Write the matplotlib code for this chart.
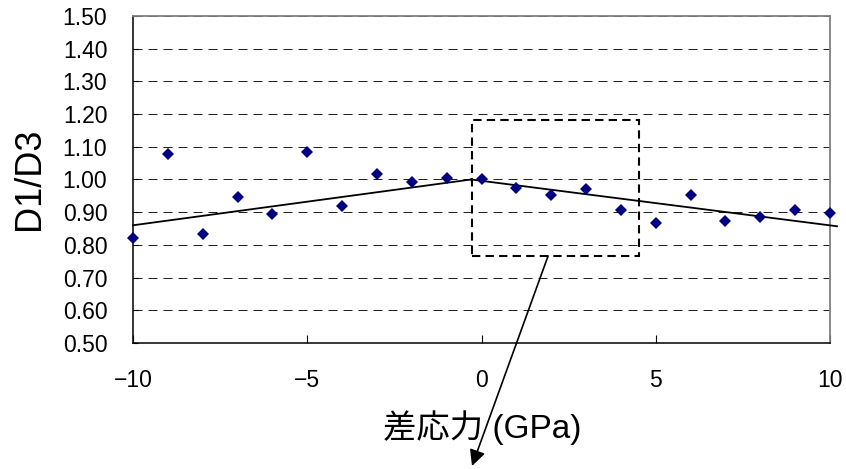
import matplotlib
matplotlib.use("Agg")
import matplotlib.pyplot as plt
from matplotlib.patches import Rectangle

# Differential stress (GPa) and measured D1/D3 ratio
stress = [-10, -9, -8, -7, -6, -5, -4, -3, -2, -1, 0,
          1, 2, 3, 4, 5, 6, 7, 8, 9, 10]
ratio = [0.820, 1.078, 0.832, 0.947, 0.896, 1.083, 0.918, 1.016, 0.993, 1.005, 1.002,
         0.975, 0.952, 0.970, 0.907, 0.866, 0.952, 0.872, 0.884, 0.907, 0.897]

# Fitted trend lines on each side of the peak
trend_left_x = [-10, -0.3]
trend_left_y = [0.860, 1.000]
trend_right_x = [-0.3, 10.2]
trend_right_y = [1.000, 0.857]

# Highlighted region
box_x = [-0.27, 4.52]
box_y = [0.766, 1.182]

yticks = [0.50, 0.60, 0.70, 0.80, 0.90, 1.00, 1.10, 1.20, 1.30, 1.40, 1.50]
xticks = [-10, -5, 0, 5, 10]

W, H = 846, 469
fig = plt.figure(figsize=(W / 100, H / 100), dpi=100)
ax = fig.add_axes([133 / W, 1 - 343 / H, (830 - 133) / W, (343 - 16) / H])

latin = ["Liberation Sans", "Noto Sans CJK JP", "DejaVu Sans"]

ax.set_xlim(-10, 10)
ax.set_ylim(0.5, 1.5)
ax.set_yticks(yticks)
ax.set_yticklabels([f"{v:.2f}" for v in yticks])
ax.set_xticks(xticks)
ax.set_xticklabels([str(v).replace("-", "\u2212") for v in xticks])
for lab in ax.get_xticklabels() + ax.get_yticklabels():
    lab.set_fontfamily(latin)
    lab.set_fontsize(16.5)
ax.tick_params(axis="y", direction="in", length=3.5, width=0.8, pad=18.5)
ax.tick_params(axis="x", direction="in", length=5.5, width=0.8, pad=19)

ax.set_axisbelow(True)
ax.yaxis.grid(True, color="#222222", linewidth=0.72, linestyle=(0, (9, 6)))
ax.xaxis.grid(False)

for side in ("left", "bottom"):
    ax.spines[side].set_color("black")
    ax.spines[side].set_linewidth(1.1)
for side in ("top", "right"):
    ax.spines[side].set_color("#808080")
    ax.spines[side].set_linewidth(1.3)

ax.plot(trend_left_x, trend_left_y, color="black", linewidth=1.3, clip_on=False, zorder=3)
ax.plot(trend_right_x, trend_right_y, color="black", linewidth=1.3, clip_on=False, zorder=3)
ax.plot(stress, ratio, linestyle="none", marker="D", markersize=6.6,
        color="#000080", markeredgewidth=0, clip_on=False, zorder=4)

ax.add_patch(Rectangle((box_x[0], box_y[0]), box_x[1] - box_x[0], box_y[1] - box_y[0],
                       fill=False, edgecolor="black", linewidth=1.5,
                       linestyle=(0, (4, 2.5)), zorder=3))

arrow_start_x = 1.91
ax.annotate("", xy=(472 / W, 1 - 466 / H), xycoords="figure fraction",
            xytext=(arrow_start_x, box_y[0]), textcoords="data",
            arrowprops=dict(arrowstyle="-|>", color="black", lw=1.2,
                            mutation_scale=24, shrinkA=0, shrinkB=0),
            annotation_clip=False)

fig.text(482 / W, 1 - 428 / H, "差応力 (GPa)", ha="center", va="center",
         fontsize=24, family=latin)
fig.text(29 / W, 1 - 179 / H, "D1/D3", ha="center", va="center",
         rotation=90, fontsize=26, family=latin)

fig.savefig("out.png", dpi=100)
